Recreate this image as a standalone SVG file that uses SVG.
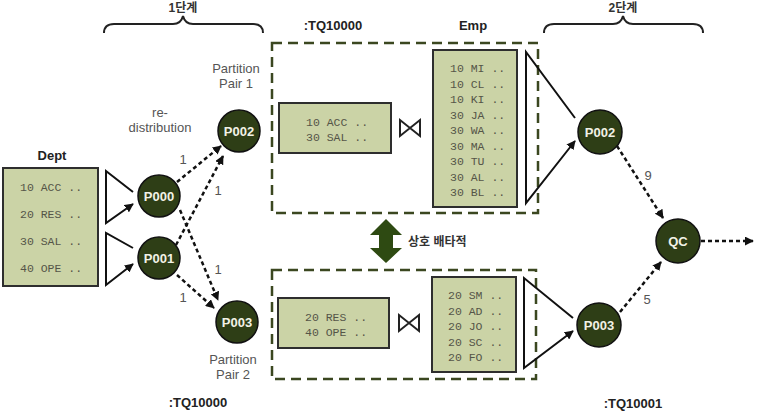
<svg xmlns="http://www.w3.org/2000/svg" width="758" height="411" viewBox="0 0 758 411">
<style>
.bg{fill:#ffffff}
.box{fill:#cbd3a6;stroke:#2e2e2e;stroke-width:2}
.mono{font-family:"Liberation Mono","DejaVu Sans Mono",monospace;font-size:11.5px;fill:#555548}
.node{fill:#2e3e16;stroke:#111;stroke-width:1.5}
.ntxt{font-family:"Liberation Sans",Arial,sans-serif;font-size:13px;font-weight:bold;fill:#f2f2e6;text-anchor:middle}
.lbl{font-family:"Liberation Sans",Arial,sans-serif;font-size:13px;fill:#555;text-anchor:middle}
.bold{font-family:"Liberation Sans",Arial,sans-serif;font-size:13px;font-weight:bold;fill:#222;text-anchor:middle}
.kr{font-family:"Liberation Sans","Noto Sans CJK KR",sans-serif;font-size:12px;font-weight:bold;fill:#333}
.dbox{fill:none;stroke:#3b4720;stroke-width:2.5;stroke-dasharray:10 6}
.dash{fill:none;stroke:#111;stroke-width:2.5;stroke-dasharray:4 3}
.solid{fill:none;stroke:#111;stroke-width:2}
.brace{fill:none;stroke:#222;stroke-width:2}
.bow{fill:none;stroke:#222;stroke-width:2;stroke-linejoin:miter}
</style>
<defs>
<marker id="ah" viewBox="0 0 10 10" refX="9" refY="5" markerWidth="9" markerHeight="9" markerUnits="userSpaceOnUse" orient="auto">
<path d="M0,0 L10,5 L0,10 Z" fill="#111"/>
</marker>
</defs>
<rect class="bg" x="0" y="0" width="758" height="411"/>

<g id="stage-labels">
<text class="kr" x="183" y="12" text-anchor="middle">1단계</text>
<path class="brace" d="M104,33 Q104,24 114,24 L173,24 Q181,24 183,16 Q185,24 193,24 L253,24 Q263,24 263,33"/>
<text class="kr" x="623" y="12" text-anchor="middle">2단계</text>
<path class="brace" d="M544,33 Q544,24 554,24 L613,24 Q621,24 623,16 Q625,24 633,24 L693,24 Q703,24 703,33"/>
<text class="bold" x="333" y="30">:TQ10000</text>
<text class="bold" x="473" y="30">Emp</text>
<text class="bold" x="198" y="407">:TQ10000</text>
<text class="bold" x="633" y="408">:TQ10001</text>
</g>

<g id="dept">
<text class="bold" x="52" y="160">Dept</text>
<rect class="box" x="3" y="168" width="95" height="118"/>
<text class="mono" x="20" y="191">10 ACC ..</text>
<text class="mono" x="20" y="218">20 RES ..</text>
<text class="mono" x="20" y="245">30 SAL ..</text>
<text class="mono" x="20" y="272">40 OPE ..</text>
</g>

<g id="labels">
<text class="lbl" x="236" y="73">Partition</text>
<text class="lbl" x="236" y="88">Pair 1</text>
<text class="lbl" x="160" y="117">re-</text>
<text class="lbl" x="160" y="132">distribution</text>
<text class="lbl" x="233" y="364">Partition</text>
<text class="lbl" x="233" y="379">Pair 2</text>
</g>

<g id="tq-top">
<rect class="dbox" x="272" y="43" width="266" height="170"/>
<rect class="box" x="279" y="103" width="112" height="50"/>
<text class="mono" x="306" y="126">10 ACC ..</text>
<text class="mono" x="306" y="141">30 SAL ..</text>
<path class="bow" d="M400,120 L400,136 L420,120 L420,136 Z"/>
<rect class="box" x="433" y="50" width="84" height="157"/>
<text class="mono" x="450" y="72">10 MI ..</text>
<text class="mono" x="450" y="87.5">10 CL ..</text>
<text class="mono" x="450" y="103">10 KI ..</text>
<text class="mono" x="450" y="118.5">30 JA ..</text>
<text class="mono" x="450" y="134">30 WA ..</text>
<text class="mono" x="450" y="149.5">30 MA ..</text>
<text class="mono" x="450" y="165">30 TU ..</text>
<text class="mono" x="450" y="180.5">30 AL ..</text>
<text class="mono" x="450" y="196">30 BL ..</text>
</g>

<g id="tq-bottom">
<rect class="dbox" x="272" y="270" width="264" height="109"/>
<rect class="box" x="278" y="298" width="111" height="50"/>
<text class="mono" x="305" y="321">20 RES ..</text>
<text class="mono" x="305" y="336">40 OPE ..</text>
<path class="bow" d="M399,315 L399,331 L419,315 L419,331 Z"/>
<rect class="box" x="432" y="277" width="84" height="95"/>
<text class="mono" x="448" y="299">20 SM ..</text>
<text class="mono" x="448" y="314.5">20 AD ..</text>
<text class="mono" x="448" y="330">20 JO ..</text>
<text class="mono" x="448" y="345.5">20 SC ..</text>
<text class="mono" x="448" y="361">20 FO ..</text>
</g>

<g id="exclusive">
<path d="M386,219 L402,235 L393,235 L393,248 L402,248 L386,263 L370,248 L379,248 L379,235 L370,235 Z" fill="#2e4a12"/>
<text class="kr" x="408" y="246">상호 배타적</text>
</g>

<g id="connectors">
<path class="solid" d="M133,192 L106,171 L106,223 L133,204" marker-end="url(#ah)"/>
<path class="solid" d="M133,248 L106,233 L106,285 L133,264" marker-end="url(#ah)"/>
<path class="solid" d="M575,118 L526,52 L526,203 L575,141" marker-end="url(#ah)"/>
<path class="solid" d="M573,318 L524,278 L524,368 L573,331" marker-end="url(#ah)"/>
<line class="dash" x1="177" y1="182" x2="221" y2="146" marker-end="url(#ah)"/>
<line class="dash" x1="176" y1="245" x2="223" y2="156" marker-end="url(#ah)"/>
<line class="dash" x1="180" y1="210" x2="218" y2="300" marker-end="url(#ah)"/>
<line class="dash" x1="177" y1="275" x2="214" y2="308" marker-end="url(#ah)"/>
<line class="dash" x1="617" y1="146" x2="663" y2="218" marker-end="url(#ah)"/>
<line class="dash" x1="620" y1="312" x2="661" y2="262" marker-end="url(#ah)"/>
<line class="dash" x1="701" y1="241" x2="753" y2="241" marker-end="url(#ah)"/>
<text class="lbl" x="183" y="164">1</text>
<text class="lbl" x="218" y="195">1</text>
<text class="lbl" x="218" y="274">1</text>
<text class="lbl" x="183" y="302">1</text>
<text class="lbl" x="648" y="180">9</text>
<text class="lbl" x="647" y="304">5</text>
</g>

<g id="P000"><circle class="node" cx="159" cy="196" r="21"/><text class="ntxt" x="159" y="201">P000</text></g>
<g id="P001"><circle class="node" cx="159" cy="258" r="21"/><text class="ntxt" x="159" y="263">P001</text></g>
<g id="P002a"><circle class="node" cx="239" cy="131" r="21"/><text class="ntxt" x="239" y="136">P002</text></g>
<g id="P003a"><circle class="node" cx="237" cy="322" r="21"/><text class="ntxt" x="237" y="327">P003</text></g>
<g id="P002b"><circle class="node" cx="600" cy="132" r="22"/><text class="ntxt" x="600" y="137">P002</text></g>
<g id="P003b"><circle class="node" cx="599" cy="325" r="22"/><text class="ntxt" x="599" y="330">P003</text></g>
<g id="QC"><circle class="node" cx="678" cy="241" r="22"/><text class="ntxt" x="678" y="246">QC</text></g>
</svg>
